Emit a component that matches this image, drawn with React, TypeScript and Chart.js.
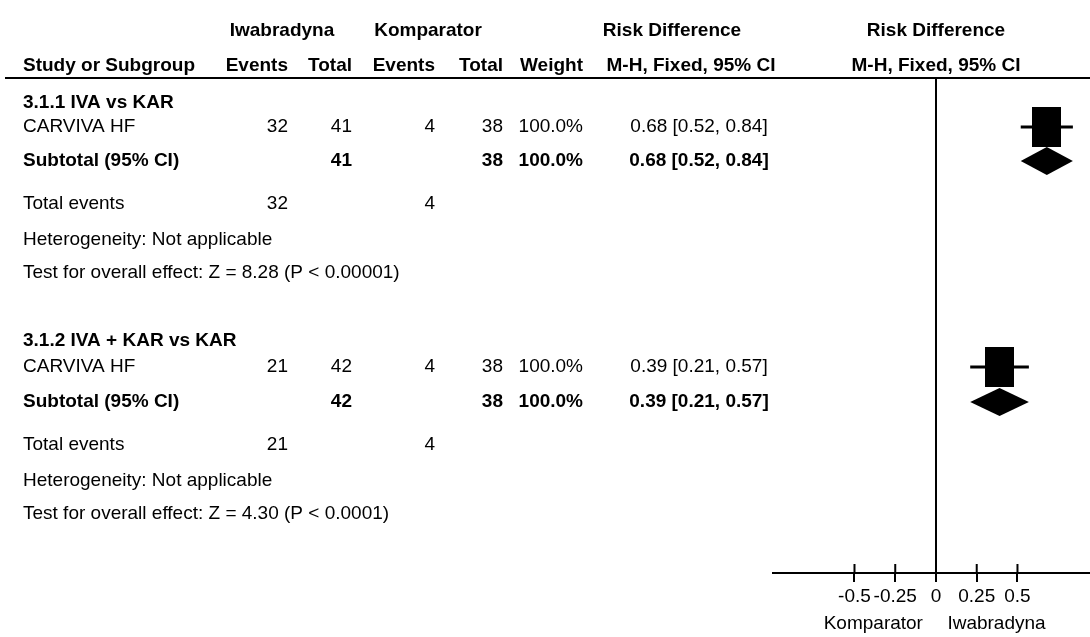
import React, { useEffect, useRef } from "react";
import { Chart, registerables } from "chart.js";

Chart.register(...registerables);

// ---------- data ----------
const groupLabels = ["Iwabradyna", "Komparator"];
const subgroupTitles = ["3.1.1 IVA vs KAR", "3.1.2 IVA + KAR vs KAR"];
const studyNames = ["CARVIVA HF", "CARVIVA HF"];
const eventsIva = [32, 21];
const totalIva = [41, 42];
const eventsKomp = [4, 4];
const totalKomp = [38, 38];
const weights = [100.0, 100.0];
const riskDiff = [0.68, 0.39];
const ciLow = [0.52, 0.21];
const ciHigh = [0.84, 0.57];
const zValues = ["8.28", "4.30"];
const pValues = ["P < 0.00001", "P < 0.0001"];
const heterogeneity = ["Not applicable", "Not applicable"];
const xTicks = [-0.5, -0.25, 0, 0.25, 0.5];
const axisLabels = ["Komparator", "Iwabradyna"];

// ---------- layout (row slots on the y scale, pixels for columns) ----------
const Y_MAX = 14.56;
// per subgroup: title, study, subtotal, total events, heterogeneity, test
const ROW_SLOTS = [
  [0.72, 1.44, 2.44, 3.71, 4.76, 5.74],
  [7.74, 8.5, 9.53, 10.79, 11.85, 12.82],
];
const FAM = '"Liberation Sans", Arial, sans-serif';
const FS = 19;
const X_NAME = 23;
const X_EV_E = 288;
const X_TOT_E = 352;
const X_EV_C = 435;
const X_TOT_C = 503;
const X_W = 583;
const X_CI = 699;
const X_HEAD_IVA = 282;
const X_HEAD_KOMP = 428;
const X_HEAD_RD = 672;
const X_HEAD_MH = 691;
const HEAD1_Y = 31;
const HEAD2_Y = 66;
const SQ_W = 29;
const SQ_H = 40;
const DIA_H = 14;

const fmtCI = (i: number) =>
  `${riskDiff[i].toFixed(2)} [${ciLow[i].toFixed(2)}, ${ciHigh[i].toFixed(2)}]`;

const tablePlugin = {
  id: "forestTable",
  beforeDatasetsDraw(chart: any) {
    const { ctx } = chart;
    const xs = chart.scales.x;
    const ys = chart.scales.y;
    ctx.save();
    ctx.strokeStyle = "#000";
    ctx.fillStyle = "#000";
    for (let g = 0; g < riskDiff.length; g++) {
      const yS = ys.getPixelForValue(ROW_SLOTS[g][1]);
      ctx.lineWidth = 3;
      ctx.beginPath();
      ctx.moveTo(xs.getPixelForValue(ciLow[g]), yS);
      ctx.lineTo(xs.getPixelForValue(ciHigh[g]), yS);
      ctx.stroke();
      const yD = ys.getPixelForValue(ROW_SLOTS[g][2]);
      ctx.beginPath();
      ctx.moveTo(xs.getPixelForValue(ciLow[g]), yD);
      ctx.lineTo(xs.getPixelForValue(riskDiff[g]), yD - DIA_H);
      ctx.lineTo(xs.getPixelForValue(ciHigh[g]), yD);
      ctx.lineTo(xs.getPixelForValue(riskDiff[g]), yD + DIA_H);
      ctx.closePath();
      ctx.fill();
    }
    ctx.restore();
  },
  afterDraw(chart: any) {
    const { ctx, chartArea } = chart;
    const xs = chart.scales.x;
    const ys = chart.scales.y;
    const x0 = xs.getPixelForValue(0);
    ctx.save();
    ctx.fillStyle = "#000";
    ctx.strokeStyle = "#000";
    ctx.textBaseline = "middle";
    const txt = (s: string, x: number, y: number, align: string, bold = false) => {
      ctx.font = `${bold ? "bold " : ""}${FS}px ${FAM}`;
      ctx.textAlign = align;
      ctx.fillText(s, x, y);
    };
    // header
    txt(groupLabels[0], X_HEAD_IVA, HEAD1_Y, "center", true);
    txt(groupLabels[1], X_HEAD_KOMP, HEAD1_Y, "center", true);
    txt("Risk Difference", X_HEAD_RD, HEAD1_Y, "center", true);
    txt("Risk Difference", x0, HEAD1_Y, "center", true);
    txt("Study or Subgroup", X_NAME, HEAD2_Y, "left", true);
    txt("Events", X_EV_E, HEAD2_Y, "right", true);
    txt("Total", X_TOT_E, HEAD2_Y, "right", true);
    txt("Events", X_EV_C, HEAD2_Y, "right", true);
    txt("Total", X_TOT_C, HEAD2_Y, "right", true);
    txt("Weight", X_W, HEAD2_Y, "right", true);
    txt("M-H, Fixed, 95% CI", X_HEAD_MH, HEAD2_Y, "center", true);
    txt("M-H, Fixed, 95% CI", x0, HEAD2_Y, "center", true);
    // header rule
    ctx.lineWidth = 2;
    ctx.beginPath();
    ctx.moveTo(5, chartArea.top);
    ctx.lineTo(chart.width, chartArea.top);
    ctx.stroke();
    // body rows
    for (let g = 0; g < subgroupTitles.length; g++) {
      const r = ROW_SLOTS[g].map((s) => ys.getPixelForValue(s));
      txt(subgroupTitles[g], X_NAME, r[0], "left", true);
      txt(studyNames[g], X_NAME, r[1], "left");
      txt(String(eventsIva[g]), X_EV_E, r[1], "right");
      txt(String(totalIva[g]), X_TOT_E, r[1], "right");
      txt(String(eventsKomp[g]), X_EV_C, r[1], "right");
      txt(String(totalKomp[g]), X_TOT_C, r[1], "right");
      txt(weights[g].toFixed(1) + "%", X_W, r[1], "right");
      txt(fmtCI(g), X_CI, r[1], "center");
      txt("Subtotal (95% CI)", X_NAME, r[2], "left", true);
      txt(String(totalIva[g]), X_TOT_E, r[2], "right", true);
      txt(String(totalKomp[g]), X_TOT_C, r[2], "right", true);
      txt(weights[g].toFixed(1) + "%", X_W, r[2], "right", true);
      txt(fmtCI(g), X_CI, r[2], "center", true);
      txt("Total events", X_NAME, r[3], "left");
      txt(String(eventsIva[g]), X_EV_E, r[3], "right");
      txt(String(eventsKomp[g]), X_EV_C, r[3], "right");
      txt(`Heterogeneity: ${heterogeneity[g]}`, X_NAME, r[4], "left");
      txt(`Test for overall effect: Z = ${zValues[g]} (${pValues[g]})`, X_NAME, r[5], "left");
    }
    // upper halves of axis ticks
    ctx.lineWidth = 2;
    for (const v of xTicks) {
      const px = xs.getPixelForValue(v);
      ctx.beginPath();
      ctx.moveTo(px, chartArea.bottom - 9);
      ctx.lineTo(px, chartArea.bottom);
      ctx.stroke();
    }
    // favours labels
    const yl = 624;
    txt(axisLabels[0], xs.getPixelForValue(-0.08), yl, "right");
    txt(axisLabels[1], xs.getPixelForValue(0.07), yl, "left");
    ctx.restore();
  },
};

export default function App() {
  const ref = useRef<HTMLCanvasElement | null>(null);
  useEffect(() => {
    const canvas = ref.current!;
    const sq = document.createElement("canvas");
    sq.width = SQ_W;
    sq.height = SQ_H;
    const c = sq.getContext("2d")!;
    c.fillStyle = "#000";
    c.fillRect(0, 0, SQ_W, SQ_H);

    const chart = new Chart(canvas, {
      type: "scatter",
      data: {
        datasets: [
          {
            data: riskDiff.map((v, i) => ({ x: v, y: ROW_SLOTS[i][1] })),
            pointStyle: sq as any,
            pointRadius: 15,
            clip: false as any,
          },
        ],
      },
      options: {
        responsive: false,
        animation: false,
        devicePixelRatio: 1,
        layout: { autoPadding: false, padding: { left: 773, top: 78, right: 0, bottom: 0 } },
        plugins: { legend: { display: false }, tooltip: { enabled: false } },
        scales: {
          x: {
            type: "linear",
            min: -1,
            max: 0.945,
            afterBuildTicks: (s: any) => {
              s.ticks = xTicks.map((v) => ({ value: v }));
            },
            afterFit: (s: any) => {
              s.height = 64;
              s.paddingLeft = 0;
              s.paddingRight = 0;
            },
            border: { display: true, color: "#000", width: 2 },
            grid: {
              color: (ctx: any) =>
                ctx.tick && ctx.tick.value === 0 ? "#000" : "rgba(0,0,0,0)",
              lineWidth: 2,
              tickColor: "#000",
              tickWidth: 2,
              tickLength: 9,
            },
            ticks: {
              color: "#000",
              font: { family: FAM, size: FS },
              padding: 3,
              maxRotation: 0,
              autoSkip: false,
              callback: (v: any) => String(v),
            },
          },
          y: { type: "linear", display: false, reverse: true, min: 0, max: Y_MAX },
        },
      },
      plugins: [tablePlugin as any],
    });
    return () => chart.destroy();
  }, []);
  return (
    <div style={{ position: "absolute", left: 0, top: 0, width: 1090, height: 637, background: "#fff" }}>
      <canvas ref={ref} width={1090} height={637} />
    </div>
  );
}
